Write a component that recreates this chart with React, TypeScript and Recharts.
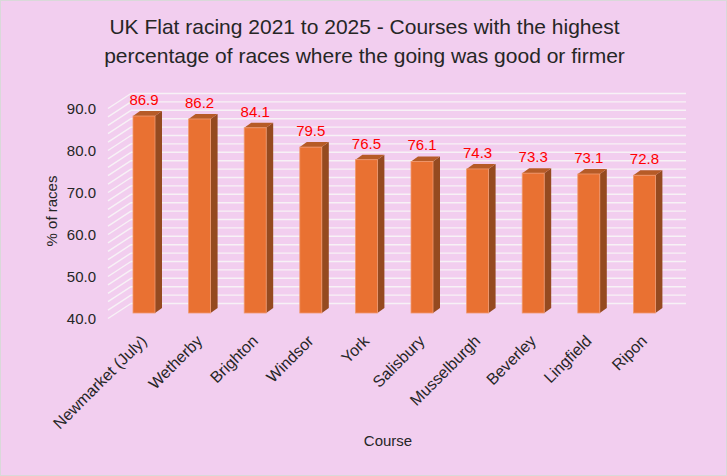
import { BarChart, Bar, XAxis, YAxis, CartesianGrid, LabelList } from "recharts";

const courses = [
	"Newmarket (July)",
	"Wetherby",
	"Brighton",
	"Windsor",
	"York",
	"Salisbury",
	"Musselburgh",
	"Beverley",
	"Lingfield",
	"Ripon",
];
const goodOrFirmer = [86.9, 86.2, 84.1, 79.5, 76.5, 76.1, 74.3, 73.3, 73.1, 72.8];
const yLabelTicks = [40, 50, 60, 70, 80, 90];
const gridTicks = [
	40, 42, 44, 46, 48, 50, 52, 54, 56, 58, 60, 62, 64, 66, 68, 70, 72, 74, 76, 78, 80, 82, 84, 86, 88, 90,
];

const data = courses.map((course, i) => ({ course, pct: goodOrFirmer[i] }));

const FONT = "'Liberation Sans', Arial, sans-serif";
const TEXT = "#262626";
const DX = 7;
const DY = -5;

// 3D-ish bar: front face, top and right side
const Bar3D = (props: any) => {
	const { x, y, width, height } = props;
	const top = `${x},${y} ${x + DX},${y + DY} ${x + width + DX},${y + DY} ${x + width},${y}`;
	const side = `${x + width},${y} ${x + width + DX},${y + DY} ${x + width + DX},${y + height + DY} ${x + width},${y + height}`;
	return (
		<g>
			<polygon points={side} fill="#954A20" />
			<polygon points={top} fill="#B65B27" />
			<rect x={x} y={y} width={width} height={height} fill="#E97132" stroke="#F09A70" strokeWidth={0.8} />
		</g>
	);
};

// back-wall gridline with the slanted side-wall segment on the left
const gridLine = (props: any) => {
	const { y1, x2, index } = props;
	return (
		<g key={`g-${index}`}>
			<line x1={108} y1={y1 + 5.5} x2={131} y2={y1 - 9.5} stroke="#F7F2F6" strokeWidth={1.4} />
			<line x1={131} y1={y1 - 9.5} x2={x2 + 14} y2={y1 - 9.5} stroke="#F7F2F6" strokeWidth={1.4} />
		</g>
	);
};

const YTick = (props: any) => {
	const { y, payload } = props;
	if (!yLabelTicks.includes(payload.value)) return <g />;
	return (
		<text x={96} y={y + 5.5} textAnchor="end" dominantBaseline="central" fontSize={15} fill={TEXT} fontFamily={FONT}>
			{payload.value.toFixed(1)}
		</text>
	);
};

const XTick = (props: any) => {
	const { x, payload } = props;
	const ax = x;
	const ay = 338;
	return (
		<text
			x={ax}
			y={ay}
			dy="0.35em"
			textAnchor="end"
			transform={`rotate(-45 ${ax} ${ay})`}
			fontSize={16}
			fill={TEXT}
			fontFamily={FONT}
		>
			{payload.value}
		</text>
	);
};

const ValueLabel = (props: any) => {
	const { x, y, width, value } = props;
	return (
		<text x={x + width / 2} y={y - 11} textAnchor="middle" fontSize={15} fill="#FF0000" fontFamily={FONT}>
			{Number(value).toFixed(1)}
		</text>
	);
};

export default function App() {
	return (
		<div
			style={{
				position: "fixed",
				left: 0,
				top: 0,
				width: 727,
				height: 476,
				boxSizing: "border-box",
				border: "1px solid #D9D9D9",
				background: "#F2CEEF",
				fontFamily: FONT,
			}}
		>
			<div
				style={{
					position: "absolute",
					left: 0,
					top: 11,
					width: 727,
					textAlign: "center",
					fontSize: 21,
					lineHeight: "29px",
					color: TEXT,
				}}
			>
				UK Flat racing 2021 to 2025 - Courses with the highest
				<br />
				percentage of races where the going was good or firmer
			</div>
			<div style={{ position: "absolute", left: -1, top: -1 }}>
				<BarChart width={727} height={476} data={data} margin={{ top: 103, right: 55, bottom: 0, left: 0 }}>
					<CartesianGrid vertical={false} horizontal={gridLine} />
					<XAxis
						dataKey="course"
						height={163}
						axisLine={false}
						tickLine={false}
						interval={0}
						tick={<XTick />}
						label={{
							content: () => (
								<text x={388} y={440} textAnchor="middle" dominantBaseline="central" fontSize={15} fill={TEXT} fontFamily={FONT}>
									Course
								</text>
							),
						}}
					/>
					<YAxis
						type="number"
						domain={[40, 90]}
						ticks={gridTicks}
						interval={0}
						width={116}
						axisLine={false}
						tickLine={false}
						tick={<YTick />}
						label={{
							content: () => (
								<text
									x={51}
									y={211}
									transform="rotate(-90 51 211)"
									textAnchor="middle"
									dominantBaseline="central"
									fontSize={15}
									fill={TEXT}
									fontFamily={FONT}
								>
									% of races
								</text>
							),
						}}
					/>
					<Bar dataKey="pct" barSize={22} shape={<Bar3D />} isAnimationActive={false}>
						<LabelList dataKey="pct" content={<ValueLabel />} />
					</Bar>
				</BarChart>
			</div>
		</div>
	);
}
